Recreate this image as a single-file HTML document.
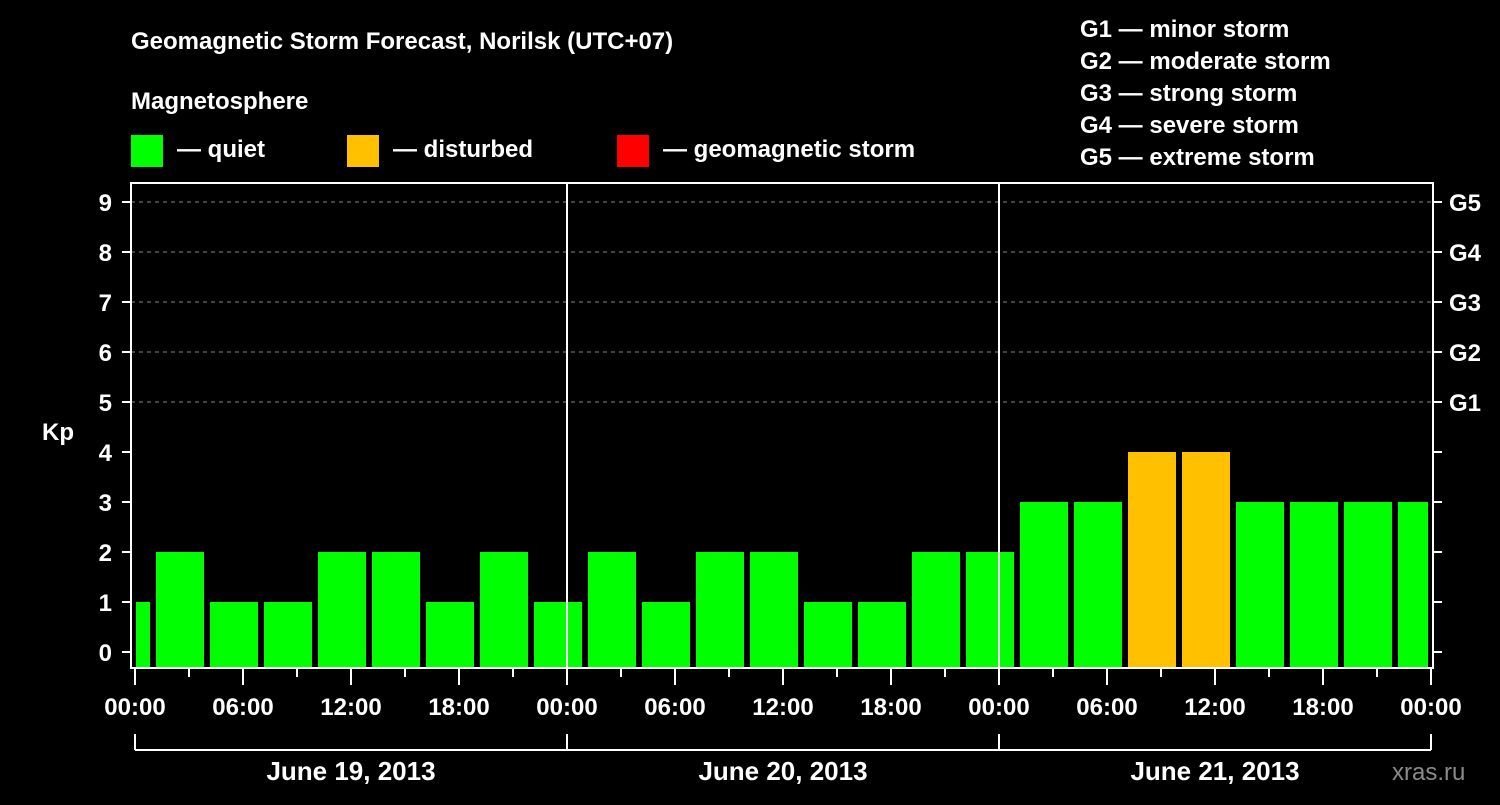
<!DOCTYPE html>
<html><head><meta charset="utf-8"><style>
body{margin:0;background:#000;width:1500px;height:800px;overflow:hidden}
svg text{font-family:"Liberation Sans",Arial,sans-serif;font-weight:bold;fill:#fff}
</style></head><body>
<svg id="chart" width="1500" height="800" viewBox="0 0 1500 800">
<rect width="1500" height="800" fill="#000"/>
<text x="131" y="49" font-size="24">Geomagnetic Storm Forecast, Norilsk (UTC+07)</text>
<text x="131" y="109" font-size="24">Magnetosphere</text>
<g>
<rect x="131" y="135" width="32" height="32" fill="#00ff00"/>
<text x="177" y="157" font-size="24">— quiet</text>
<rect x="347" y="135" width="32" height="32" fill="#ffc000"/>
<text x="393" y="157" font-size="24">— disturbed</text>
<rect x="617" y="135" width="32" height="32" fill="#ff0000"/>
<text x="663" y="157" font-size="24">— geomagnetic storm</text>
</g>
<g font-size="24">
<text x="1080" y="37">G1 — minor storm</text>
<text x="1080" y="69">G2 — moderate storm</text>
<text x="1080" y="101">G3 — strong storm</text>
<text x="1080" y="133">G4 — severe storm</text>
<text x="1080" y="165">G5 — extreme storm</text>
</g>
<g id="grid"></g>
<g id="bars"></g>
<g id="axes"></g>
<text x="42" y="440" font-size="24">Kp</text>
<text x="1392" y="780" font-size="24" fill="#888" style="fill:#8a8a8a;font-weight:normal">xras.ru</text>
</svg>
<script>
const kpValues=[1,2,1,1,2,2,1,2,1,2,1,2,2,1,1,2,2,3,3,4,4,3,3,3,3];
const yTicks=[0,1,2,3,4,5,6,7,8,9];
const gLabels=["G1","G2","G3","G4","G5"];
const xTickLabels=["00:00","06:00","12:00","18:00","00:00","06:00","12:00","18:00","00:00","06:00","12:00","18:00","00:00"];
const dayLabels=["June 19, 2013","June 20, 2013","June 21, 2013"];
const NS="http://www.w3.org/2000/svg";
const X0=135,PXH=18,Y0=652,PXU=50,L=131,R=1433,T=183,B=668;
const x=h=>X0+h*PXH, y=v=>Y0-v*PXU;
function mk(tag,attrs,parent,text){const e=document.createElementNS(NS,tag);for(const k in attrs)e.setAttribute(k,attrs[k]);if(text!==undefined)e.textContent=text;parent.appendChild(e);return e;}
const grid=document.getElementById('grid'),bars=document.getElementById('bars'),axes=document.getElementById('axes');
for(let v=5;v<=9;v++){const g=mk('line',{x1:L,x2:R,y1:y(v),y2:y(v),stroke:'#888','stroke-dasharray':'4,4','stroke-width':1},grid);

}
kpValues.forEach((v,i)=>{let h0=Math.max(0,1+3*(i-1)),h1=Math.min(72,4+3*(i-1));
const col=v>=5?'#ff0000':(v>=4?'#ffc000':'#00ff00');
const r=mk('rect',{x:x(h0)+(h0===0?1:3),y:y(v),width:x(h1)-x(h0)-(h0===0?4:6),height:B-y(v),fill:col},bars);

});
mk('rect',{x:L,y:T,width:R-L,height:B-T,fill:'none',stroke:'#fff','stroke-width':2},axes);
[1,2].forEach(d=>{const l=mk('line',{x1:x(24*d),x2:x(24*d),y1:T,y2:B,stroke:'#fff','stroke-width':2},axes);

});
yTicks.forEach(v=>{mk('line',{x1:122,x2:L,y1:y(v),y2:y(v),stroke:'#fff','stroke-width':2},axes);
mk('line',{x1:R,x2:R+9,y1:y(v),y2:y(v),stroke:'#fff','stroke-width':2},axes);
const t=mk('text',{x:112,y:y(v)+9,'font-size':24,'text-anchor':'end'},axes,String(v));

});
gLabels.forEach((g,i)=>{const t=mk('text',{x:1449,y:y(5+i)+9,'font-size':24},axes,g);

});
for(let h=0;h<=72;h+=3){const major=h%6===0;mk('line',{x1:x(h),x2:x(h),y1:B,y2:B+(major?17:9),stroke:'#fff','stroke-width':2},axes);}
xTickLabels.forEach((s,i)=>{const t=mk('text',{x:x(i*6),y:715,'font-size':24,'text-anchor':'middle'},axes,s);

});
mk('line',{x1:x(0),x2:x(72),y1:750,y2:750,stroke:'#fff','stroke-width':2},axes);
for(let d=0;d<=3;d++)mk('line',{x1:x(24*d),x2:x(24*d),y1:734,y2:750,stroke:'#fff','stroke-width':2},axes);
dayLabels.forEach((s,i)=>{const t=mk('text',{x:x(24*i+12),y:780,'font-size':26,'text-anchor':'middle'},axes,s);

});
</script>
</body></html>
